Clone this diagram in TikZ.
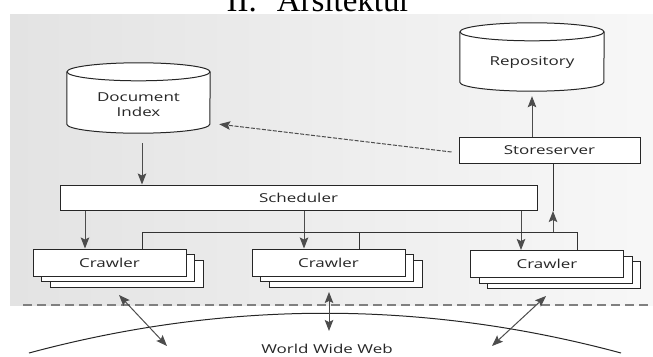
\documentclass[tikz,border=0pt]{standalone}
\usepackage{fontspec}
\setmainfont{Liberation Serif}
\setsansfont[FakeStretch=1.38]{Open Sans}
\usetikzlibrary{arrows.meta, positioning, shadows}
\tikzset{
x=1pt, y=-1pt, % one unit per pixel, y grows downwards
>={Stealth[length=11pt, width=8.5pt, inset=2pt]}, % filled arrow heads
every node/.style={font=\sffamily\fontsize{12.3}{15}\selectfont, text=black!85, align=center},
box/.style={draw=black!85, line width=1pt, fill=white, inner sep=0pt}, % plain boxes
crawler/.style={box, minimum width=153pt, minimum height=27pt,
  double copy shadow={shadow xshift=8.5pt, shadow yshift=-5.5pt, draw=black!85, fill=white, line width=1pt}}, % stacked crawlers
db/.style={inner sep=0pt}, % body of a cylinder, outline drawn by hand
dbline/.style={draw=black!85, line width=1pt, fill=white},
link/.style={->, draw=black!70, line width=1pt},
wire/.style={draw=black!80, line width=1pt},
}

\begin{document}
\begin{tikzpicture}
  \useasboundingbox (0,0) rectangle (653,356);

  % heading, half cut off at the top
  \node[anchor=base west, font=\rmfamily\fontsize{33}{33}\selectfont, text=black] (title) at (223,12) {II.\hspace{20pt}Arsitektur};

  % grey backdrop and dashed border
  \fill[left color=black!11, right color=black!3] (10,14) rectangle (653,305);
  \draw[black!50, line width=2.5pt, dash pattern=on 9pt off 5pt] (23,305) -- (653,305);

  % databases
  \node[db, minimum width=143pt, minimum height=52pt] (index) at (138.5,98) {};
  \draw[dbline] (index.north west) -- (index.south west) arc[start angle=180, end angle=360, x radius=71.5pt, y radius=9pt] -- (index.north east);
  \draw[dbline] (index.north) ellipse[x radius=71.5pt, y radius=9pt];
  \node (indexlabel) at ([yshift=-7pt]index.center) {Document\\Index};

  \node[db, minimum width=144pt, minimum height=50pt] (repo) at (532,57) {};
  \draw[dbline] (repo.north west) -- (repo.south west) arc[start angle=180, end angle=360, x radius=72pt, y radius=9pt] -- (repo.north east);
  \draw[dbline] (repo.north) ellipse[x radius=72pt, y radius=9pt];
  \node (repolabel) at ([yshift=-5pt]repo.center) {Repository};

  % boxes
  \node[box, minimum width=181pt, minimum height=26pt] (store) at (549.5,150) {Storeserver};
  \node[box, minimum width=477pt, minimum height=25pt] (sched) at (298.5,197.5) {Scheduler};
  \node[crawler] (crawl1) at (109.5,262.5) {Crawler};
  \node[crawler] (crawl2) at (328.5,262.5) {Crawler};
  \node[crawler] (crawl3) at (547,264) {Crawler};

  % index -> scheduler, storeserver -> index / repository
  \draw[link] ([xshift=3.5pt, yshift=-19pt]index.south) -- ([xshift=3.5pt]index.south |- sched.north);
  \draw[link, dash pattern=on 4pt off 1.5pt] ([xshift=-7pt, yshift=-2pt]store.west) -- ([xshift=9pt]index.south east);
  \draw[link] ([xshift=-17.5pt]store.north) -- ([xshift=-17.5pt, yshift=-14pt]store.north |- repo.south);

  % scheduler -> crawlers
  \coordinate (s1) at ([xshift=-24.5pt]crawl1.north);
  \coordinate (s2) at ([xshift=-24.5pt]crawl2.north);
  \coordinate (s3) at ([xshift=-26pt]crawl3.north);
  \foreach \s in {s1, s2, s3}
    \draw[link] (\s |- sched.south) -- (\s);

  % crawlers -> storeserver
  \coordinate (busL) at (142,232);
  \coordinate (busR) at (577,232);
  \coordinate (up) at (553,232);
  \coordinate (upmid) at (553,211);
  \draw[wire] ([xshift=32.5pt]crawl1.north) -- (busL) -- (busR) -- ([xshift=30pt]crawl3.north);
  \draw[wire] ([xshift=30.5pt]crawl2.north) -- ([xshift=30.5pt]crawl2.north |- busL);
  \draw[link] (up) -- (upmid);
  \draw[wire] (upmid) -- (up |- store.south);

  % the web
  \draw[black!85, line width=1pt] (29,353) .. controls (226,300) and (424,300) .. (621,353);
  \node (web) at (327,349) {World Wide Web};
  \coordinate (w1) at (119,295);
  \coordinate (v1) at (167,346);
  \coordinate (w2) at (329,292);
  \coordinate (v2) at (329,331);
  \coordinate (w3) at (546,296);
  \coordinate (v3) at (492,346);
  \foreach \i in {1,2,3}
    \draw[link, <->] (w\i) -- (v\i);
\end{tikzpicture}
\end{document}
